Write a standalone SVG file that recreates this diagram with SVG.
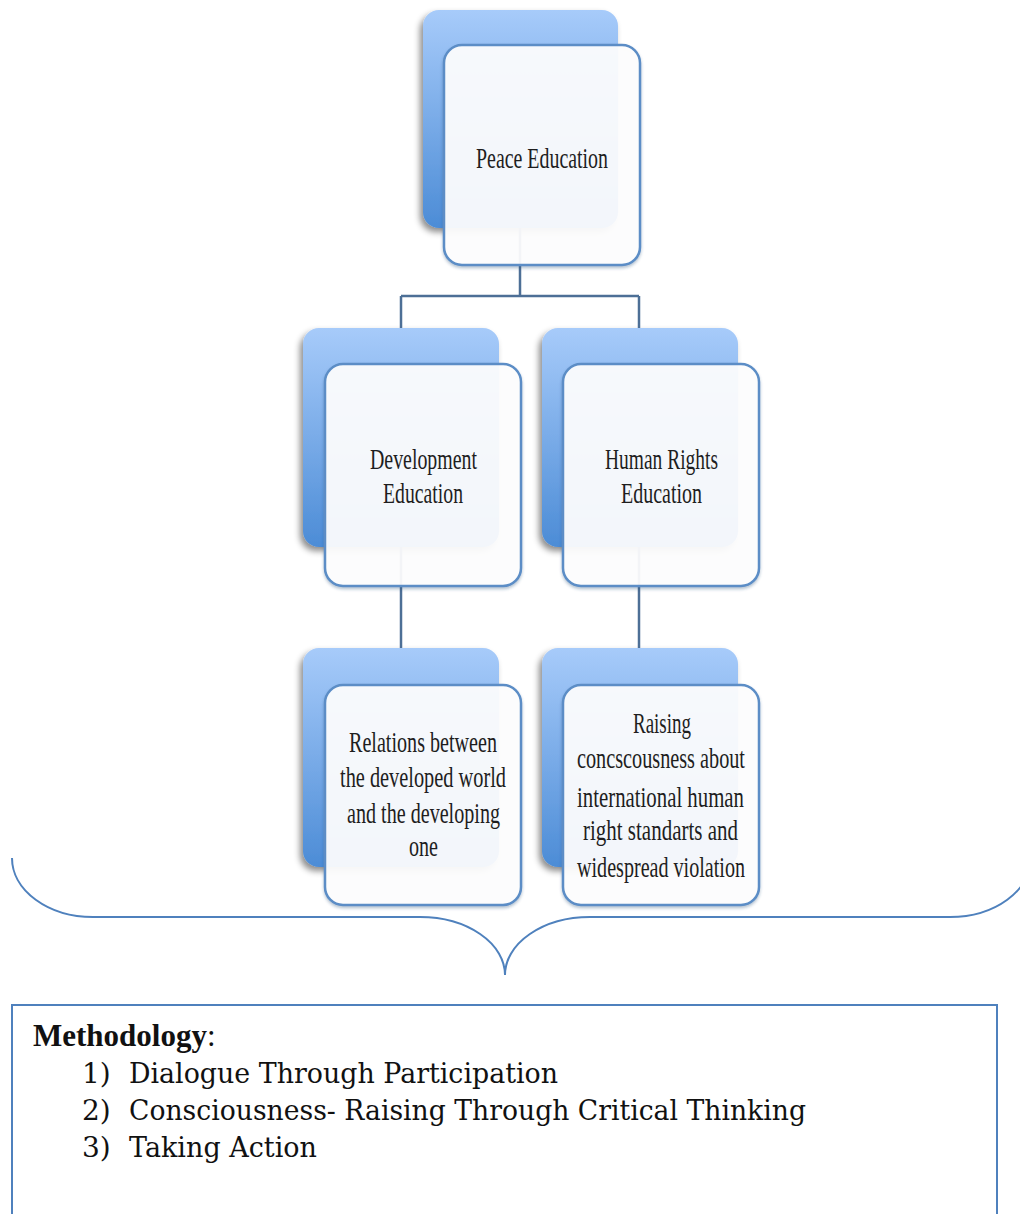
<svg xmlns="http://www.w3.org/2000/svg" width="1020" height="1214" viewBox="0 0 1020 1214">
  <defs>
    <linearGradient id="backFill" x1="0" y1="0" x2="0" y2="1">
      <stop offset="0" stop-color="#a7cbfa"/>
      <stop offset="1" stop-color="#4c8cd6"/>
    </linearGradient>
    <filter id="backShadow" x="-20%" y="-20%" width="140%" height="140%">
      <feDropShadow dx="-3" dy="4" stdDeviation="3" flood-color="#000" flood-opacity="0.45"/>
    </filter>
    <filter id="frontShadow" x="-20%" y="-20%" width="140%" height="140%">
      <feDropShadow dx="0" dy="2" stdDeviation="1.5" flood-color="#2a4f7a" flood-opacity="0.35"/>
    </filter>
  </defs>
  <style>
    .back { fill: url(#backFill); filter: url(#backShadow); }
    .front { fill: #ffffff; fill-opacity: 0.92; stroke: #5b8dc6; stroke-width: 2.5; filter: url(#frontShadow); }
    .lbl { font-family: "Liberation Serif", "DejaVu Serif", serif; font-size: 30px; fill: #1e1e1e; }
    .conn { fill: none; stroke: #4d6f96; stroke-width: 2.5; }
    .brace { fill: none; stroke: #4f81bd; stroke-width: 2; }
    .panel { fill: none; stroke: #4f81bd; stroke-width: 2; }
    .head { font-family: "Liberation Serif", "Times New Roman", serif; font-size: 31px; fill: #111; }
    .item { font-family: "DejaVu Serif", "Liberation Serif", serif; font-size: 28px; fill: #111; }
  </style>

  <rect width="1020" height="1214" fill="#ffffff"/>

  <!-- back plates -->
  <g id="plates">
    <rect class="back" x="423" y="10" width="195" height="218" rx="16"/>
    <rect class="back" x="303" y="328" width="196" height="219" rx="16"/>
    <rect class="back" x="542" y="328" width="196" height="219" rx="16"/>
    <rect class="back" x="303" y="648" width="196" height="219" rx="16"/>
    <rect class="back" x="542" y="648" width="196" height="219" rx="16"/>
  </g>

  <!-- tree connectors -->
  <g id="connectors">
    <path class="conn" d="M520,228 V296 M401,296 H639 M401,296 V328 M639,296 V328"/>
    <path class="conn" d="M401,547 V648"/>
    <path class="conn" d="M639,547 V648"/>
  </g>

  <g id="peace-education">
    <rect class="front" x="444" y="45" width="196" height="220" rx="18"/>
    <text class="lbl" x="476" y="168" textLength="132" lengthAdjust="spacingAndGlyphs">Peace Education</text>
  </g>

  <g id="development-education">
    <rect class="front" x="325" y="364" width="196" height="222" rx="18"/>
    <text class="lbl" x="370" y="469" textLength="107" lengthAdjust="spacingAndGlyphs">Development</text>
    <text class="lbl" x="383" y="503" textLength="80" lengthAdjust="spacingAndGlyphs">Education</text>
  </g>

  <g id="human-rights-education">
    <rect class="front" x="563" y="364" width="196" height="222" rx="18"/>
    <text class="lbl" x="605" y="469" textLength="113" lengthAdjust="spacingAndGlyphs">Human Rights</text>
    <text class="lbl" x="621" y="503" textLength="81" lengthAdjust="spacingAndGlyphs">Education</text>
  </g>

  <g id="development-relations">
    <rect class="front" x="325" y="685" width="196" height="220" rx="18"/>
    <text class="lbl" x="349" y="752" textLength="148" lengthAdjust="spacingAndGlyphs">Relations between</text>
    <text class="lbl" x="340" y="787" textLength="166" lengthAdjust="spacingAndGlyphs">the developed world</text>
    <text class="lbl" x="347" y="823" textLength="153" lengthAdjust="spacingAndGlyphs">and the developing</text>
    <text class="lbl" x="409" y="856" textLength="29" lengthAdjust="spacingAndGlyphs">one</text>
  </g>

  <g id="human-rights-awareness">
    <rect class="front" x="563" y="685" width="196" height="220" rx="18"/>
    <text class="lbl" x="633" y="733" textLength="58" lengthAdjust="spacingAndGlyphs">Raising</text>
    <text class="lbl" x="577" y="768" textLength="168" lengthAdjust="spacingAndGlyphs">concscousness about</text>
    <text class="lbl" x="577" y="807" textLength="167" lengthAdjust="spacingAndGlyphs">international human</text>
    <text class="lbl" x="583" y="840" textLength="155" lengthAdjust="spacingAndGlyphs">right standarts and</text>
    <text class="lbl" x="577" y="877" textLength="168" lengthAdjust="spacingAndGlyphs">widespread violation</text>
  </g>

  <!-- curly brace gathering the tree -->
  <g id="brace">
    <path class="brace" d="M12,858 A81,59 0 0 0 93,917 L420,917 A85,58 0 0 1 505,975 A85,58 0 0 1 590,917 L950,917 A81,59 0 0 0 1031,858"/>
  </g>

  <g id="methodology">
    <rect class="panel" x="12" y="1005" width="985" height="240"/>
    <text class="head" x="33" y="1046"><tspan font-weight="bold" textLength="174" lengthAdjust="spacingAndGlyphs">Methodology</tspan><tspan>:</tspan></text>
    <text class="item" x="82" y="1083">1)</text>
    <text class="item" x="129" y="1083" textLength="429" lengthAdjust="spacingAndGlyphs">Dialogue Through Participation</text>
    <text class="item" x="82" y="1120">2)</text>
    <text class="item" x="129" y="1120" textLength="677" lengthAdjust="spacingAndGlyphs">Consciousness- Raising Through Critical Thinking</text>
    <text class="item" x="82" y="1157">3)</text>
    <text class="item" x="129" y="1157" textLength="188" lengthAdjust="spacingAndGlyphs">Taking Action</text>
  </g>
</svg>
